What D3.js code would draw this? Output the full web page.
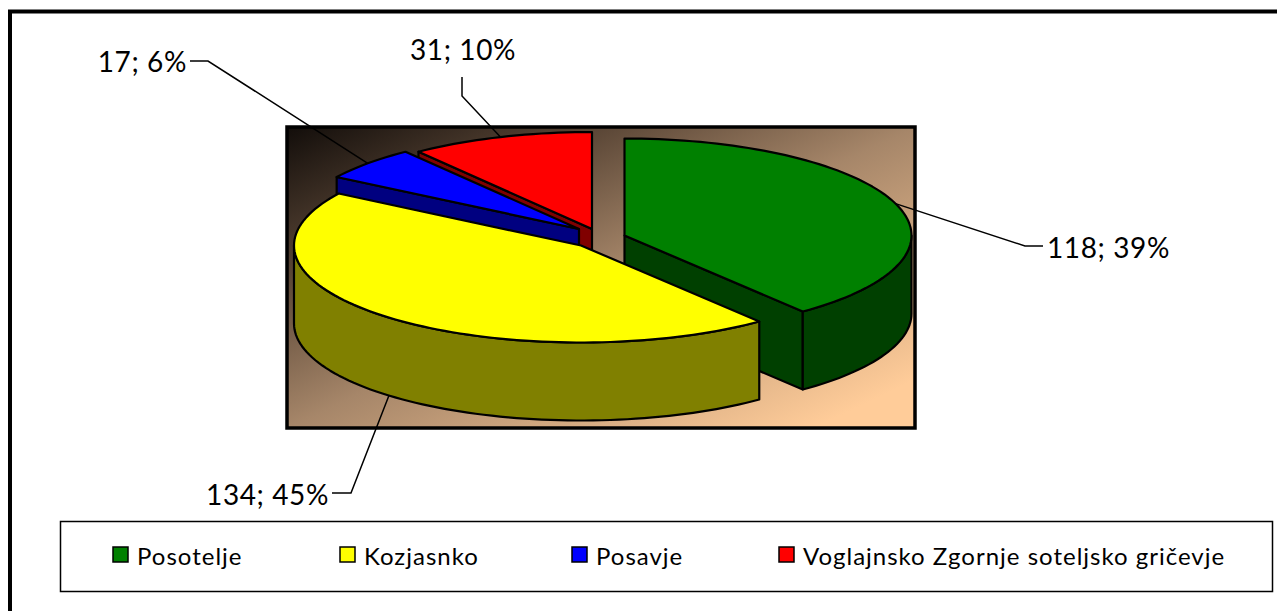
<!DOCTYPE html>
<html>
<head>
<meta charset="utf-8">
<script src="https://cdn.jsdelivr.net/npm/d3@7"></script>
<style>
  html, body { margin: 0; padding: 0; background: #fff; overflow: hidden; }
  text { font-family: "Lato", "Noto Sans", sans-serif; fill: #000; }
</style>
</head>
<body>
<div id="chart"></div>
<script>
////////////////////////////////////////////////////////////////////////
// Data

const regions = ["Posotelje", "Kozjasnko", "Posavje", "Voglajnsko Zgornje soteljsko gričevje"];
const counts = [118, 134, 17, 31];
const shares = ["39%", "45%", "6%", "10%"];

////////////////////////////////////////////////////////////////////////
// Layout and colours, same order as the data

const topColors = ["#008000", "#ffff00", "#0000ff", "#ff0000"];
const sideColors = ["#004000", "#808000", "#000080", "#800000"];

// every slice is pulled out of the pie by hand, so each has its own centre
const centres = [[624.5, 235.5], [581, 245.5], [579, 229], [592, 229]];
const rx = 287;
const ry = 97;
const depth = 78;

// elbow of the leader line, end of the leader line, label anchor
const leaders = [
  { elbow: [1025, 246], end: [1043, 246], label: [1047, 258], anchor: "start" },
  { elbow: [351, 493], end: [332, 493], label: [329, 505], anchor: "end" },
  { elbow: [208, 61], end: [190, 61], label: [187, 72], anchor: "end" },
  { elbow: [462, 96], end: [462, 77], label: [463, 60], anchor: "middle" }
];

const legendX = [113, 340, 572, 779];

let width = 1277;
let height = 611;

let svg = d3.select("#chart")
  .append("svg")
  .attr("width", width).attr("height", height)
  .style("display", "block");

// plot area gradient, lighter than a plain black to peach ramp
let grad = svg.append("defs").append("linearGradient")
  .attr("id", "wall")
  .attr("x1", 0).attr("y1", 0).attr("x2", 1).attr("y2", 1);
grad.append("stop").attr("offset", 0).attr("stop-color", "#120d0a");
grad.append("stop").attr("offset", 0.25).attr("stop-color", "#5a4636");
grad.append("stop").attr("offset", 0.5).attr("stop-color", "#a68669");
grad.append("stop").attr("offset", 0.92).attr("stop-color", "#ffcc99");
grad.append("stop").attr("offset", 1).attr("stop-color", "#ffcc99");

// outer frame, open on the right and at the bottom
svg.append("path")
  .attr("d", "M10,611V11.5H1277")
  .attr("fill", "none").attr("stroke", "#000").attr("stroke-width", 4);

svg.append("rect")
  .attr("x", 287).attr("y", 127)
  .attr("width", 628).attr("height", 301)
  .attr("fill", "url(#wall)")
  .attr("stroke", "#000").attr("stroke-width", 3.5);

////////////////////////////////////////////////////////////////////////
// Pie

let slices = d3.pie().sort(null)(counts);
const PI = Math.PI;

// point on the ellipse, angle measured clockwise from the top
function onRim(i, a, drop) {
  let c = centres[i];
  return [c[0] + rx * Math.sin(a), c[1] - ry * Math.cos(a) + (drop || 0)];
}

function arcPoints(i, a0, a1, drop) {
  let n = Math.max(2, Math.ceil((a1 - a0) / 0.03));
  return d3.range(n + 1).map(k => onRim(i, a0 + (a1 - a0) * k / n, drop));
}

let line = d3.line();

// back to front, the order of the original: red, blue, green, yellow
let order = [3, 2, 0, 1];

let pieG = svg.append("g")
  .attr("stroke", "#000").attr("stroke-width", 2.2).attr("stroke-linejoin", "round");

order.forEach(i => {
  let s = slices[i];
  let c = centres[i];
  let g = pieG.append("g");

  // flat wall along the first cut, seen only on the left half
  if (s.startAngle > PI) {
    let p = onRim(i, s.startAngle);
    g.append("path")
      .attr("d", line([c, p, [p[0], p[1] + depth], [c[0], c[1] + depth]]) + "Z")
      .attr("fill", sideColors[i]);
  }
  // flat wall along the second cut, seen only on the right half
  if (s.endAngle < PI) {
    let p = onRim(i, s.endAngle);
    g.append("path")
      .attr("d", line([c, p, [p[0], p[1] + depth], [c[0], c[1] + depth]]) + "Z")
      .attr("fill", sideColors[i]);
  }

  // round outer wall, only the part that faces the viewer
  let a0 = Math.max(s.startAngle, PI / 2);
  let a1 = Math.min(s.endAngle, 3 * PI / 2);
  if (a1 > a0) {
    let front = arcPoints(i, a0, a1, 0);
    let back = arcPoints(i, a0, a1, depth).reverse();
    g.append("path")
      .attr("d", line(front.concat(back)) + "Z")
      .attr("fill", sideColors[i]);
  }

  // top face
  g.append("path")
    .attr("d", line([c].concat(arcPoints(i, s.startAngle, s.endAngle, 0))) + "Z")
    .attr("fill", topColors[i]);
});

////////////////////////////////////////////////////////////////////////
// Leader lines and labels

leaders.forEach((l, i) => {
  let s = slices[i];
  let mid = (s.startAngle + s.endAngle) / 2;
  // the label of a slice on the near side hangs from the bottom of its wall
  let drop = Math.cos(mid) < -0.5 ? depth : 0;
  let start = onRim(i, mid, drop);

  svg.append("path")
    .attr("d", line([start, l.elbow, l.end]))
    .attr("fill", "none").attr("stroke", "#000").attr("stroke-width", 1.5);

  svg.append("text")
    .attr("x", l.label[0]).attr("y", l.label[1])
    .attr("text-anchor", l.anchor)
    .attr("font-size", 28)
    .attr("letter-spacing", 0.6)
    .text(counts[i] + "; " + shares[i]);
});

////////////////////////////////////////////////////////////////////////
// Legend

svg.append("rect")
  .attr("x", 60.5).attr("y", 521.5)
  .attr("width", 1212).attr("height", 70)
  .attr("fill", "#fff").attr("stroke", "#000").attr("stroke-width", 1.5);

let legend = svg.selectAll(".legend")
  .data(regions)
  .enter()
  .append("g")
  .attr("class", "legend")
  .attr("transform", (d, i) => `translate(${legendX[i]}, 547)`);

legend.append("rect")
  .attr("width", 15).attr("height", 15)
  .attr("fill", (d, i) => topColors[i])
  .attr("stroke", "#000").attr("stroke-width", 1.5);

legend.append("text")
  .attr("x", 24).attr("y", 18)
  .attr("font-size", 24)
  .attr("letter-spacing", 1)
  .text(d => d);
</script>
</body>
</html>
